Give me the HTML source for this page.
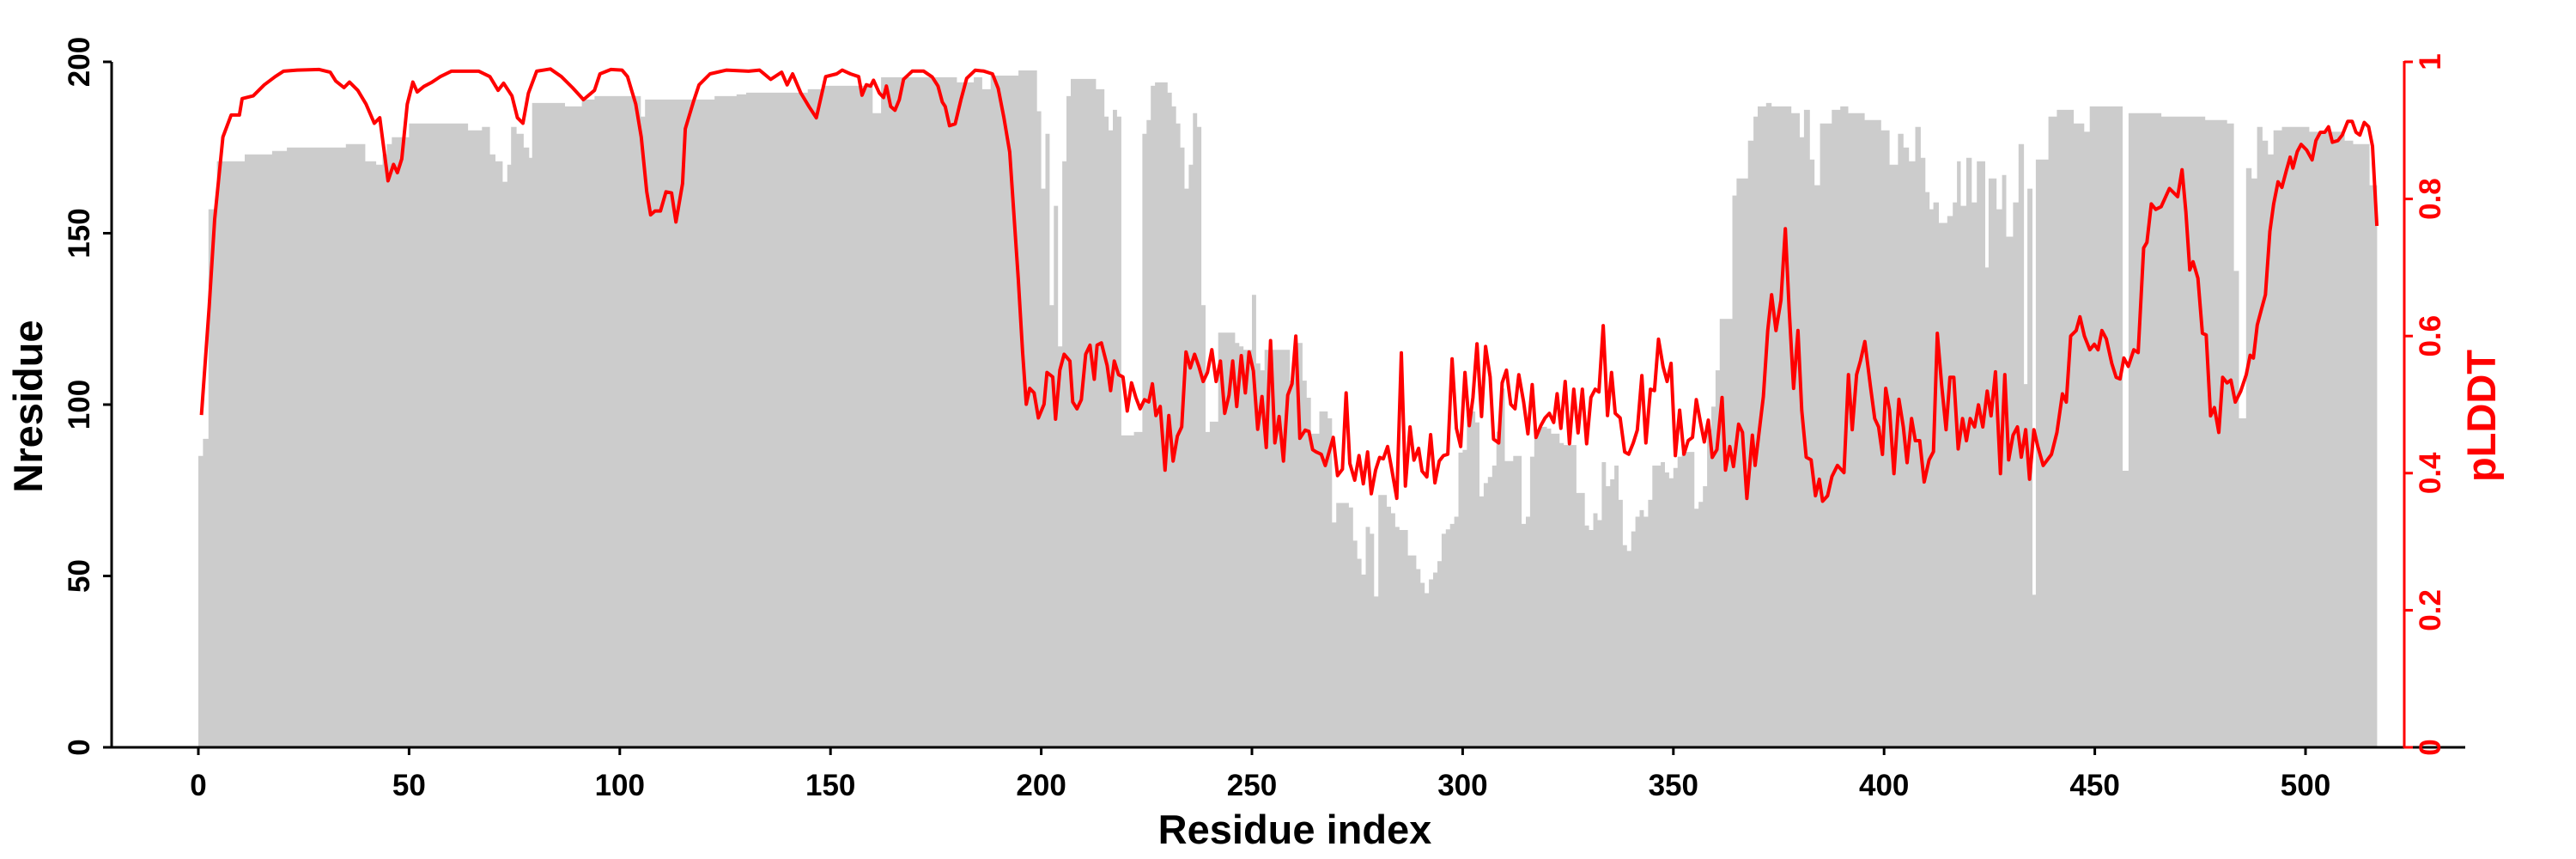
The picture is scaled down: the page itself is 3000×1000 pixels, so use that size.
<!DOCTYPE html>
<html><head><meta charset="utf-8"><style>
html,body{margin:0;padding:0;background:#fff;}
svg{display:block;}
text{font-family:"Liberation Sans",Arial,sans-serif;font-weight:bold;}
</style></head><body>
<svg id="s" width="3000" height="1000" viewBox="0 0 3000 1000" xmlns="http://www.w3.org/2000/svg">
<path id="bars" fill="#cccccc" d=""/>
<path id="line" fill="none" stroke="#ff0000" stroke-width="4" stroke-linejoin="round" d=""/>
<g stroke="#000" stroke-width="3" fill="none">
<line x1="130" y1="72" x2="130" y2="871"/>
<line x1="130" y1="870" x2="2871" y2="870"/>
<line x1="120" y1="870" x2="130" y2="870"/>
<line x1="120" y1="670.5" x2="130" y2="670.5"/>
<line x1="120" y1="471" x2="130" y2="471"/>
<line x1="120" y1="271.5" x2="130" y2="271.5"/>
<line x1="120" y1="72" x2="130" y2="72"/>
</g>
<g id="xt" stroke="#000" stroke-width="3"></g>
<g stroke="#ff0000" stroke-width="3" fill="none">
<line x1="2800" y1="71" x2="2800" y2="871"/>
<line x1="2800" y1="870" x2="2810" y2="870"/>
<line x1="2800" y1="710.4" x2="2810" y2="710.4"/>
<line x1="2800" y1="550.8" x2="2810" y2="550.8"/>
<line x1="2800" y1="391.2" x2="2810" y2="391.2"/>
<line x1="2800" y1="231.6" x2="2810" y2="231.6"/>
<line x1="2800" y1="72" x2="2810" y2="72"/>
</g>
<g id="xl" font-size="35" text-anchor="middle"></g>
<g font-size="35" text-anchor="middle" fill="#000">
<text transform="translate(104,870) rotate(-90)">0</text>
<text transform="translate(104,670.5) rotate(-90)">50</text>
<text transform="translate(104,471) rotate(-90)">100</text>
<text transform="translate(104,271.5) rotate(-90)">150</text>
<text transform="translate(104,72) rotate(-90)">200</text>
</g>
<g font-size="35" text-anchor="middle" fill="#ff0000">
<text transform="translate(2842,870) rotate(-90)">0</text>
<text transform="translate(2842,710.4) rotate(-90)">0.2</text>
<text transform="translate(2842,550.8) rotate(-90)">0.4</text>
<text transform="translate(2842,391.2) rotate(-90)">0.6</text>
<text transform="translate(2842,231.6) rotate(-90)">0.8</text>
<text transform="translate(2842,72) rotate(-90)">1</text>
</g>
<text transform="translate(49,473) rotate(-90)" font-size="47" text-anchor="middle" fill="#000">Nresidue</text>
<text transform="translate(2906,484) rotate(-90)" font-size="47" text-anchor="middle" fill="#ff0000">pLDDT</text>
<text x="1508" y="982" font-size="47" text-anchor="middle" fill="#000">Residue index</text>
</svg>
<script>
(function(){
var X=function(r){return 231+4.908*r;};
var YN=function(n){return 870-3.99*n;};
var YP=function(p){return 870-798*p;};
var segs=[[0,1.1,85],[1.1,2.4,90],[2.4,4.4,157],[4.4,6,171],[6,11,171],[11,17.5,173],[17.5,21,174],[21,35,175],[35,39.6,176],[39.6,42.2,171],[42.2,43.7,170],[43.7,44.7,173],[44.7,45.9,176],[45.9,50,178],[50,64,182],[64,67.3,180],[67.3,69.2,181],[69.2,70.5,173],[70.5,72.2,171],[72.2,73.3,165],[73.3,74.2,170],[74.2,75.5,181],[75.5,77.2,179],[77.2,78.5,175],[78.5,79.2,172],[79.2,87,188],[87,91,187],[91,94,189],[94,105,190],[105,106,184],[106,117,189],[117,122.5,189],[122.5,127.7,190],[127.7,130,190.5],[130,144.6,191],[144.6,148.5,192],[148.5,156.5,193],[156.5,160,193],[160,162,185],[162,180,195.5],[180,184,194],[184,186,195.5],[186,188,192],[188,194.6,196],[194.6,199,197.5],[199,200,185.6],[200,201,163],[201,202,179],[202,203,129],[203,204,158],[204,205,117],[205,206,171],[206,207,190],[207,213,195],[213,215,192],[215,216,184],[216,217,180],[217,218,186],[218,219,184],[219,222,91],[222,224,92],[224,225,179],[225,226,183],[226,227,193],[227,230,194],[230,231,191],[231,232,187],[232,233,182],[233,234,175],[234,235,163],[235,236,170],[236,237,185],[237,238,181],[238,239,129],[239,240,92],[240,242,95],[242,246,121],[246,247,118],[247,248,117],[248,250,116],[250,251,132],[251,252,112],[252,253,110],[253,259,116],[259,260,107],[260,262,118],[262,263,107],[263,264,102],[264,266,91.5],[266,268,98],[268,269,96],[269,270,65.6],[270,273,71.3],[273,274,70],[274,275,60.3],[275,276,55],[276,277,50.4],[277,278,64.3],[278,279,62.3],[279,280,44],[280,282,73.6],[282,283,70.2],[283,284,68.3],[284,285,64.3],[285,287,63.4],[287,289,56],[289,290,52],[290,291,48],[291,292,45],[292,293,49],[293,294,51],[294,295,54.3],[295,296,62.3],[296,297,63.6],[297,298,65.2],[298,299,67.3],[299,300,86],[300,301,86.8],[301,303,98],[303,304,94.8],[304,305,73.2],[305,306,77.1],[306,307,78.9],[307,308,82.2],[308,309,92.1],[309,310,104.7],[310,312,83.5],[312,314,85],[314,315,65.2],[315,316,67.3],[316,317,84.8],[317,318,92.5],[318,320,93.5],[320,321,93],[321,323,91.5],[323,324,88.8],[324,327,88.2],[327,329,74.2],[329,330,64.7],[330,331,63.4],[331,332,68.3],[332,333,66.3],[333,334,83.2],[334,335,76.2],[335,336,78.2],[336,337,82.2],[337,338,72.2],[338,339,59],[339,340,57.3],[340,341,63],[341,342,67.3],[342,343,69.2],[343,344,67.3],[344,345,72.2],[345,347,82.2],[347,348,83.2],[348,349,80.2],[349,350,78.5],[350,351,81.5],[351,352,84.8],[352,355,86.2],[355,356,69.6],[356,357,71.6],[357,358,76.2],[358,359,92.8],[359,360,99.4],[360,361,110],[361,364,125],[364,365,161],[365,367.7,166],[367.7,369,177],[369,370,184],[370,372,187],[372,373.3,188],[373.3,378,187],[378,380,185],[380,381,178],[381,382.4,186],[382.4,383.5,171.5],[383.5,384.8,164],[384.8,387.6,182],[387.6,389.6,186],[389.6,391.5,187],[391.5,395.4,185],[395.4,399.3,183],[399.3,401.3,180],[401.3,403.3,170],[403.3,404.6,179],[404.6,405.9,175],[405.9,407.4,171],[407.4,408.7,181],[408.7,409.8,172],[409.8,410.8,162],[410.8,411.7,157],[411.7,413,159],[413,415,153],[415,416.3,155],[416.3,417.3,159],[417.3,418.2,171],[418.2,419.5,158],[419.5,420.8,172],[420.8,422,159],[422,424,171],[424,424.8,140],[424.8,426.7,166],[426.7,428,157],[428,429,167],[429,430.6,149],[430.6,431.9,159],[431.9,433.2,176],[433.2,434,106],[434,435.2,163],[435.2,436,44.5],[436,439,171.5],[439,441,184],[441,445,186],[445,447.5,182],[447.5,448.8,179.6],[448.8,456.6,187],[456.6,458,80.7],[458,465.8,185],[465.8,476.2,184],[476.2,481.4,183],[481.4,483,182],[483,484.2,139],[484.2,485.9,96],[485.9,487.2,169],[487.2,488.5,166],[488.5,489.8,181],[489.8,491.1,177],[491.1,492.4,173],[492.4,494.4,180],[494.4,500.9,181],[500.9,509.3,179.6],[509.3,511.3,177],[511.3,515.2,176],[515.2,517,164]];
var d="M"+X(0).toFixed(1)+",870";
segs.forEach(function(s){d+="L"+X(s[0]).toFixed(1)+","+YN(s[2]).toFixed(1)+"L"+X(s[1]).toFixed(1)+","+YN(s[2]).toFixed(1);});
d+="L"+X(517).toFixed(1)+",870Z";
document.getElementById("bars").setAttribute("d",d);

var z1=[[366,757],[380,560],[390,400],[405,250],[420,210],[435,210],[440,180],[460,175],[480,155],[500,140],[515,130],[540,128],[580,127],[600,132],[610,148],[625,160],[635,150],[650,165],[665,190],[680,225],[690,215],[705,330],[715,300],[722,315],[730,290],[740,190],[750,150],[758,168],[770,158],[785,150],[800,140],[820,130],[840,130],[870,130],[890,140],[905,165],[915,152],[930,175],[940,215],[950,225],[960,170],[975,130],[1000,126],[1020,140],[1040,160],[1060,182],[1080,165],[1090,135],[1110,127],[1130,128],[1140,140],[1155,190],[1165,250],[1175,350],[1182,392],[1190,385],[1200,385],[1210,350],[1220,352],[1228,405],[1240,335],[1245,235],[1260,185],[1270,155],[1290,135],[1320,128],[1360,130],[1380,128],[1400,145],[1420,132],[1430,155],[1440,135],[1455,170],[1470,195],[1483,215],[1500,140],[1520,135],[1530,128],[1545,135],[1560,140]];
var z6=[[15,115],[30,92],[45,95],[55,82],[75,110],[90,120],[100,95],[115,140],[130,148],[145,125],[160,80],[190,62],[230,62],[260,75],[280,95],[295,130],[305,140],[320,182],[340,178],[360,125],[380,78],[410,60],[440,62],[470,68],[490,100],[510,165],[530,240],[545,380],[560,520],[575,680],[588,795],[600,760],[615,770],[630,825],[650,795],[660,725],[680,735],[690,828],[705,720],[720,685],[740,700],[750,790],[765,805],[780,785],[795,685],[810,665],[825,740],[835,665],[850,660],[870,710],[882,765],[895,700],[910,730],[925,735],[940,810],[955,748],[970,780],[985,805],[1000,785],[1015,790],[1028,750],[1040,820],[1055,800],[1072,940],[1085,820],[1100,920],[1115,865],[1130,845],[1145,680],[1160,715],[1175,685],[1190,712],[1205,745],[1220,725],[1235,675],[1250,745],[1265,700],[1280,815],[1295,775],[1308,700],[1322,800],[1338,688],[1352,770],[1365,680],[1380,722],[1395,850],[1410,778],[1425,890],[1440,655],[1455,880],[1470,822],[1485,920],[1500,775],[1515,750],[1528,645],[1542,870]];
var z7=[[62,852],[75,855],[88,895],[100,900],[118,905],[132,930],[160,868],[175,952],[192,938],[205,770],[218,925],[235,962],[250,908],[265,970],[280,900],[293,992],[308,940],[322,912],[335,915],[350,888],[365,940],[382,1002],[398,682],[412,975],[428,845],[442,918],[458,892],[470,942],[487,955],[500,862],[515,968],[530,920],[545,908],[560,905],[575,695],[590,848],[605,888],[620,725],[635,842],[648,780],[662,662],[678,822],[692,668],[708,735],[720,872],[738,880],[750,748],[765,720],[780,795],[795,805],[808,730],[825,790],[840,860],[855,752],[868,868],[885,842],[900,825],[915,815],[930,835],[942,772],[955,848],[970,745],[985,882],[1000,762],[1015,858],[1030,762],[1045,882],[1060,780],[1075,762],[1088,768],[1103,622],[1118,820],[1132,725],[1145,815],[1162,825],[1178,900],[1192,905],[1208,880],[1222,852],[1238,732],[1252,880],[1268,762],[1282,765],[1296,652],[1312,712],[1326,745],[1340,705],[1355,908],[1370,808],[1385,905],[1400,875],[1415,868],[1428,785],[1442,832],[1456,878],[1470,830],[1484,912],[1500,895],[1518,780],[1530,940],[1545,888],[1558,932]];
var z2=[[40,770],[47,785],[55,905],[65,790],[70,845],[85,720],[93,600],[100,535],[108,600],[117,545],[125,415],[132,560],[140,705],[148,600],[155,745],[163,830],[172,835],[180,900],[187,870],[193,910],[202,900],[210,865],[220,845],[232,858],[240,680],[247,780],[255,680],[262,655],[270,620],[280,700],[288,760],[295,775],[302,825],[308,705],[315,745],[323,860],[332,725],[340,775],[347,840],[355,760],[362,800],[370,800],[378,875],[387,835],[395,820],[402,605],[410,700],[418,780],[425,685],[432,685],[440,815],[448,760],[455,800],[462,760],[470,775],[477,735],[485,775],[493,710],[500,755],[508,675],[517,860],[525,680],[532,835],[540,790],[548,775],[555,830],[563,780],[570,870],[578,780],[585,810],[595,845],[610,825],[620,785],[630,715],[637,730],[645,610],[655,600],[662,575],[670,610],[680,635],[688,625],[695,635],[702,600],[710,615],[720,660],[728,685],[735,688],[742,650],[750,665],[760,635],[768,640],[778,450],[784,440],[792,370],[800,380],[810,375],[825,342],[840,357],[848,308],[855,385],[862,490],[868,475],[877,505],[885,605],[892,608],[900,755],[907,740],[915,785],[922,685],[930,695],[937,690],[945,730],[955,710],[965,680],[972,645],[978,650],[985,590],[993,560],[1000,535],[1008,420],[1015,370],[1023,330],[1030,340],[1038,310],[1045,285],[1050,305],[1058,275],[1065,262],[1075,272],[1085,290],[1092,255],[1100,240],[1108,240],[1115,230],[1122,258],[1132,255],[1140,245],[1150,220],[1158,220],[1165,240],[1172,245],[1180,222],[1188,230],[1195,265],[1203,410]];
var pts=[];
z1.forEach(function(a){pts.push([(a[0]-360.4)/7.656,(1363-a[1])/1250]);});
z6.forEach(function(a){pts.push([200+(a[0]-640)/14.7,1.0276-0.000663*a[1]]);});
z7.forEach(function(a){pts.push([300+(a[0]-612)/14.72,1.0276-0.000663*a[1]]);});
z2.forEach(function(a){pts.push([400+(a[0]-305)/7.68,(1357-a[1])/1245]);});
var ld="",last=-1;
pts.forEach(function(p){if(p[0]<=last)return;last=p[0];ld+=(ld?"L":"M")+X(p[0]).toFixed(1)+","+YP(p[1]).toFixed(1);});
document.getElementById("line").setAttribute("d",ld);

var xt=document.getElementById("xt"),xl=document.getElementById("xl"),ns="http://www.w3.org/2000/svg";
for(var v=0;v<=500;v+=50){
 var l=document.createElementNS(ns,"line");var x=X(v);
 l.setAttribute("x1",x);l.setAttribute("x2",x);l.setAttribute("y1",870);l.setAttribute("y2",879);xt.appendChild(l);
 var t=document.createElementNS(ns,"text");t.setAttribute("x",x);t.setAttribute("y",926);t.textContent=v;xl.appendChild(t);
}
})();
</script>
</body></html>
